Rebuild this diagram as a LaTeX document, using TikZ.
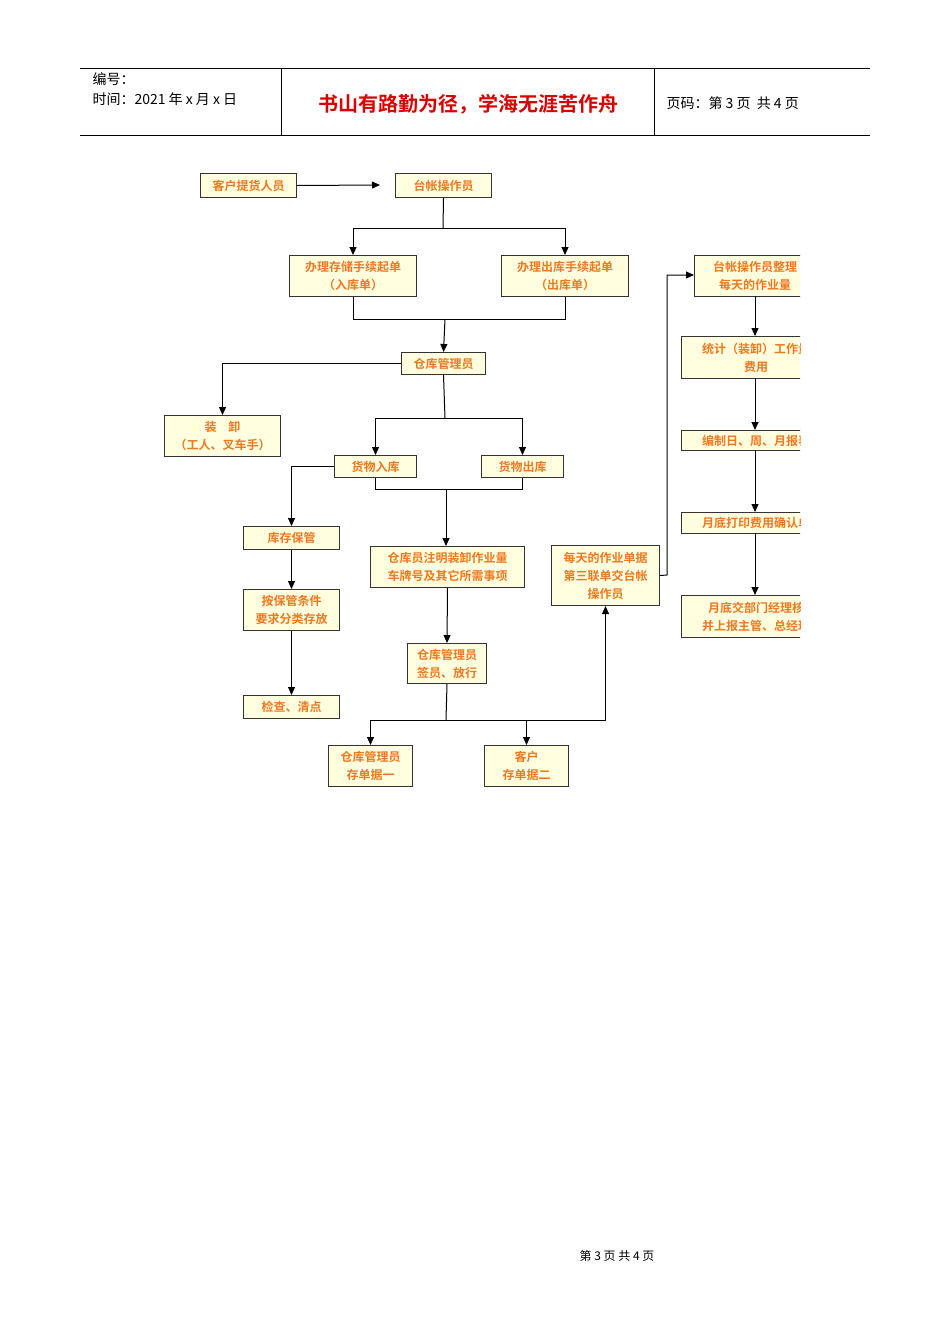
\documentclass[tikz,border=0pt]{standalone}
\usepackage{fontspec}
\setmainfont{Liberation Sans}
\newfontfamily\cjk{Noto Sans CJK SC}
\newfontfamily\cjkb{Noto Sans CJK SC Bold}
\usetikzlibrary{arrows.meta}
\definecolor{boxfill}{HTML}{FFFFE0}
\definecolor{boxtext}{HTML}{F07820}
\begin{document}
\begin{tikzpicture}[x=1pt,y=-1pt,
  bx/.style={draw=black!80,line width=1pt,fill=boxfill,text=boxtext,font=\cjkb\fontsize{12}{18}\selectfont,align=center,inner sep=0pt,anchor=north west},
  ln/.style={line width=1pt},
  ar/.style={line width=1pt,-{Triangle[length=8pt,width=7pt]}}]
\useasboundingbox (0,0) rectangle (950,1344);
% header
\draw[line width=0.6pt] (80,68) -- (870,68) (80,135) -- (870,135) (281,68) -- (281,135) (654,68) -- (654,135);
\node[anchor=west,font=\cjk\fontsize{14}{16}\selectfont] (h1) at (89,79) {编号：};
\node[anchor=west,font=\cjk\fontsize{14}{16}\selectfont] (h2) at (89,99) {时间：2021 年 x 月 x 日};
\node[font=\cjkb\fontsize{20}{22}\selectfont,text=red!85!black] (ht) at (468,104) {书山有路勤为径，学海无涯苦作舟};
\node[anchor=west,font=\cjk\fontsize{14}{16}\selectfont] (hp) at (663,103) {页码：第 3 页\ \ 共 4 页};
\node[font=\cjk\fontsize{12}{14}\selectfont] (ft) at (617,1256) {第\ 3\ 页\ 共\ 4\ 页};
% boxes
\newcommand\bxn[6]{\node[bx,minimum width=#4-#2,minimum height=#5-#3] (#1) at (#2,#3) {#6};}
\bxn{a}{200}{173}{296}{197}{客户提货人员}
\bxn{b}{395}{173}{491}{197}{台帐操作员}
\bxn{c}{289}{255}{416}{296}{办理存储手续起单\\（入库单）}
\bxn{d}{501}{255}{628}{296}{办理出库手续起单\\（出库单）}
\bxn{e}{401}{352}{485}{374}{仓库管理员}
\bxn{f}{164}{415}{280}{456}{装\quad 卸\\（工人、叉车手）}
\bxn{g}{334}{455}{416}{477}{货物入库}
\bxn{h}{481}{455}{563}{477}{货物出库}
\bxn{i}{243}{526}{339}{549}{库存保管}
\bxn{j}{370}{546}{524}{587}{仓库员注明装卸作业量\\车牌号及其它所需事项}
\bxn{k}{243}{589}{339}{630}{按保管条件\\要求分类存放}
\bxn{l}{243}{695}{339}{718}{检查、清点}
\bxn{m}{407}{643}{486}{683}{仓库管理员\\签员、放行}
\bxn{n}{328}{745}{412}{786}{仓库管理员\\存单据一}
\bxn{o}{484}{745}{568}{786}{客户\\存单据二}
\bxn{p}{551}{545}{659}{605}{每天的作业单据\\第三联单交台帐\\操作员}
\begin{scope}
\clip (0,0) rectangle (800,1344);
\bxn{q}{694}{255}{815}{296}{台帐操作员整理\\每天的作业量}
\bxn{r}{681}{336}{830}{378}{统计（装卸）工作量\\费用}
\bxn{s}{681}{430}{830}{450}{编制日、周、月报表}
\bxn{t}{681}{512}{830}{533}{月底打印费用确认单}
\bxn{u}{681}{595}{830}{637}{月底交部门经理核\\并上报主管、总经理}
\end{scope}
\coordinate (a1) at (380,185);
\draw[ar] (a.east) -- (a1);
\draw[ln] (b.south) -- (443,228) coordinate (b1);
\draw[ar] (b1) -| (c.north);
\draw[ar] (b1) -| (d.north);
\draw[ln] (c.south) |- (445,319) coordinate (c1) (d.south) |- (c1);
\draw[ar] (c1) -- (e.north);
\draw[ar] (e.west) -| (f.north);
\draw[ln] (e.south) -- (445,418) coordinate (e1);
\draw[ar] (e1) -| (g.north);
\draw[ar] (e1) -| (h.north);
\draw[ar] (g.west) -| (i.north);
\draw[ln] (g.south) |- (446,489) coordinate (g1) (h.south) |- (g1);
\draw[ar] (g1) -- (446,546);
\draw[ar] (i.south) -- (k.north);
\draw[ar] (k.south) -- (l.north);
\draw[ar] (j.south) -- (m.north);
\draw[ln] (m.south) -- (446,720) coordinate (m1);
\draw[ar] (m1) -| (n.north);
\draw[ar] (m1) -| (o.north);
\draw[ar] (m1) -| (p.south);
\draw[ar] (p.east) -- (667,575) |- (694,275);
\draw[ar] (755,296) -- (755,336);
\draw[ar] (755,378) -- (755,430);
\draw[ar] (755,450) -- (755,512);
\draw[ar] (755,533) -- (755,595);
\end{tikzpicture}
\end{document}
